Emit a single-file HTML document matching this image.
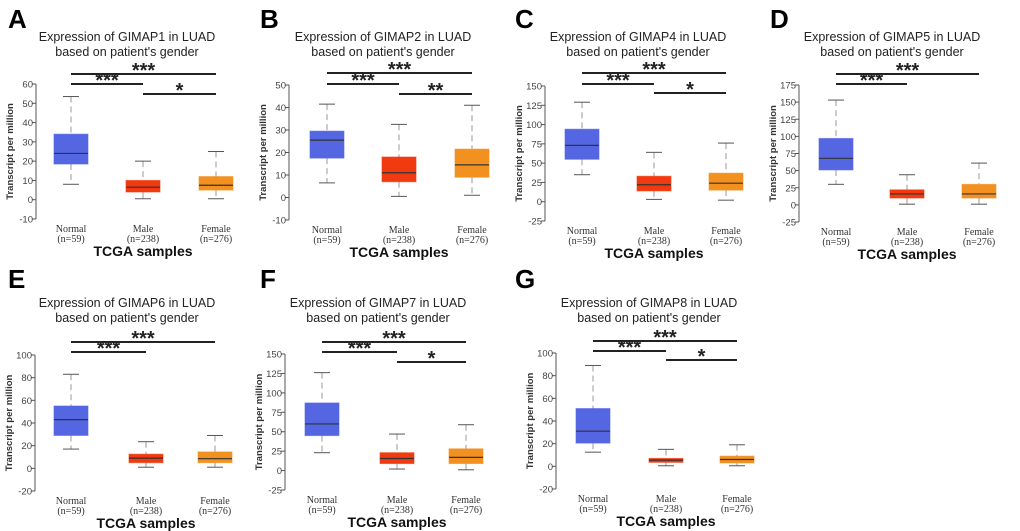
<!DOCTYPE html>
<html><head><meta charset="utf-8">
<style>
html,body{margin:0;padding:0;background:#fff;}
svg{display:block;font-family:"Liberation Sans",sans-serif;}
</style></head>
<body>
<svg id="fig" width="1020" height="531" viewBox="0 0 1020 531"></svg>
<script>
// ----- data -----
const categories = ["Normal","Male","Female"];
const sampleSizes = ["(n=59)","(n=238)","(n=276)"];
const genes = ["GIMAP1","GIMAP2","GIMAP4","GIMAP5","GIMAP6","GIMAP7","GIMAP8"];
const panelLetters = ["A","B","C","D","E","F","G"];
// per panel [min,q1,median,q3,max] for Normal, Male, Female
const normalStats = [[8,18.5,24,34,53.5],[6.5,17.5,25.5,29.5,41.5],[35,55,73,94,129],[30,51,68,97,153],[17,29,43,55,83],[23,45,60,87,126],[12.5,20.5,31,51,89]];
const maleStats = [[0.5,4,6.5,10,20],[0.5,7,11,18,32.5],[3,14,22,33,64],[1,10,16,22,44],[1,5,9,12.5,23.5],[2,9,15.5,23,47],[0.5,3.5,5.5,7,15]];
const femaleStats = [[0.5,5,7.5,12,25],[1,9,14.5,21.5,41],[2,15,24,37,76],[1,10,16,30,61],[1,5,8.5,14.5,29],[1,9,17,28,59],[0.5,3,6,9,19]];
const yTicksA = [-10,0,10,20,30,40,50,60];
const yTicksB = [-10,0,10,20,30,40,50];
const yTicksC = [-25,0,25,50,75,100,125,150];
const yTicksD = [-25,0,25,50,75,100,125,150,175];
const yTicksE = [-20,0,20,40,60,80,100];
const yTicksF = [-25,0,25,50,75,100,125,150];
const yTicksG = [-20,0,20,40,60,80,100];
const significance = [["***","***","*"],["***","***","**"],["***","***","*"],["***","***",null],["***","***",null],["***","***","*"],["***","***","*"]];

// ----- layout (pixels) -----
const tickSets=[yTicksA,yTicksB,yTicksC,yTicksD,yTicksE,yTicksF,yTicksG];
const layout=[
 {ax:36,top:84,bot:219,cx:[71,143,216],sig:[74,84,94],lx:8,ly:28,ty:37},
 {ax:289,top:85,bot:220,cx:[327,399,472],sig:[73,84,94],lx:260,ly:28,ty:37},
 {ax:545,top:86,bot:221,cx:[582,654,726],sig:[73,84,93],lx:515,ly:28,ty:37},
 {ax:799,top:85,bot:222,cx:[836,907,979],sig:[74,84,94],lx:770,ly:28,ty:37},
 {ax:35,top:355,bot:491,cx:[71,146,215],sig:[342,352,362],lx:8,ly:288,ty:303},
 {ax:285,top:354,bot:490,cx:[322,397,466],sig:[342,352,362],lx:260,ly:288,ty:303},
 {ax:556,top:353,bot:489,cx:[593,666,737],sig:[341,351,360],lx:515,ly:288,ty:303}
];
const colors=["#5566e3","#f23a10","#f29020"];
const NS="http://www.w3.org/2000/svg";
const fig=document.getElementById('fig');
function mk(tag,attrs,parent,text){const e=document.createElementNS(NS,tag);for(const k in attrs)e.setAttribute(k,attrs[k]);if(text!=null)e.textContent=text;parent.appendChild(e);return e;}

for(let p=0;p<7;p++){
  const L=layout[p],ticks=tickSets[p];
  const g=mk('g',{},fig);
  
  
  const ymin=ticks[0],ymax=ticks[ticks.length-1];
  const y=v=>L.bot-(v-ymin)/(ymax-ymin)*(L.bot-L.top);
  const letter=mk('text',{x:L.lx,y:L.ly,'font-size':26,'font-weight':'bold',fill:'#000'},g,panelLetters[p]);
  
  
  const tc=L.cx[0]+56;
  const t1=mk('text',{x:tc,y:L.ty+4,'font-size':12.5,'text-anchor':'middle',fill:'#222'},g,'Expression of '+genes[p]+' in LUAD');
  
  
  const t2=mk('text',{x:tc,y:L.ty+19,'font-size':12.5,'text-anchor':'middle',fill:'#222'},g,"based on patient's gender");
  
  
  const axis=mk('line',{x1:L.ax,y1:L.top,x2:L.ax,y2:L.bot,stroke:'#555','stroke-width':1},g);
  
  
  ticks.forEach(t=>{
    const yy=y(t);
    mk('line',{x1:L.ax-4,y1:yy,x2:L.ax,y2:yy,stroke:'#555'},g);
    const tl=mk('text',{x:L.ax-3,y:yy+3.5,'font-size':9.5,'text-anchor':'end',fill:'#444'},g,String(t));
    
    
  });
  const yt=mk('text',{x:0,y:0,'font-size':9.5,'font-weight':'bold','text-anchor':'middle',fill:'#333',transform:`translate(${L.ax-23},${(L.top+L.bot)/2}) rotate(-90)`},g,'Transcript per million');
  
  
  const stats=[normalStats[p],maleStats[p],femaleStats[p]];
  for(let c=0;c<3;c++){
    const s=stats[c],cx=L.cx[c],hw=17;
    const bg=mk('g',{},g);
    
    
    mk('line',{x1:cx,y1:y(s[4]),x2:cx,y2:y(s[3]),stroke:'#999','stroke-dasharray':'6,4'},bg);
    mk('line',{x1:cx,y1:y(s[1]),x2:cx,y2:y(s[0]),stroke:'#999','stroke-dasharray':'6,4'},bg);
    mk('line',{x1:cx-8,y1:y(s[4]),x2:cx+8,y2:y(s[4]),stroke:'#555'},bg);
    mk('line',{x1:cx-8,y1:y(s[0]),x2:cx+8,y2:y(s[0]),stroke:'#555'},bg);
    mk('rect',{x:cx-hw,y:y(s[3]),width:hw*2,height:y(s[1])-y(s[3]),fill:colors[c],stroke:colors[c],'stroke-opacity':0.6},bg);
    mk('line',{x1:cx-hw,y1:y(s[2]),x2:cx+hw,y2:y(s[2]),stroke:'#333','stroke-width':1.2},bg);
    const cl=mk('text',{x:cx,y:L.bot+13,'font-size':10,'text-anchor':'middle','font-family':'Liberation Serif,serif',fill:'#333'},g,categories[c]);
    
    
    const nl=mk('text',{x:cx,y:L.bot+23,'font-size':10,'text-anchor':'middle','font-family':'Liberation Serif,serif',fill:'#333'},g,sampleSizes[c]);
    
    
  }
  const xt=mk('text',{x:L.cx[1],y:L.bot+37,'font-size':14,'font-weight':'bold','text-anchor':'middle',fill:'#111'},g,'TCGA samples');
  
  
  const pairs=[[0,2],[0,1],[1,2]];
  for(let k=0;k<3;k++){
    const lab=significance[p][k]; if(!lab) continue;
    const a=L.cx[pairs[k][0]],b=L.cx[pairs[k][1]],sy=L.sig[k];
    const sg=mk('g',{},g);
    
    
    mk('line',{x1:a,y1:sy,x2:b,y2:sy,stroke:'#222','stroke-width':2},sg);
    mk('text',{x:(a+b)/2,y:sy+3,'font-size':20,'font-weight':'bold','text-anchor':'middle',fill:'#222'},sg,lab);
  }
}
</script>
</body></html>
